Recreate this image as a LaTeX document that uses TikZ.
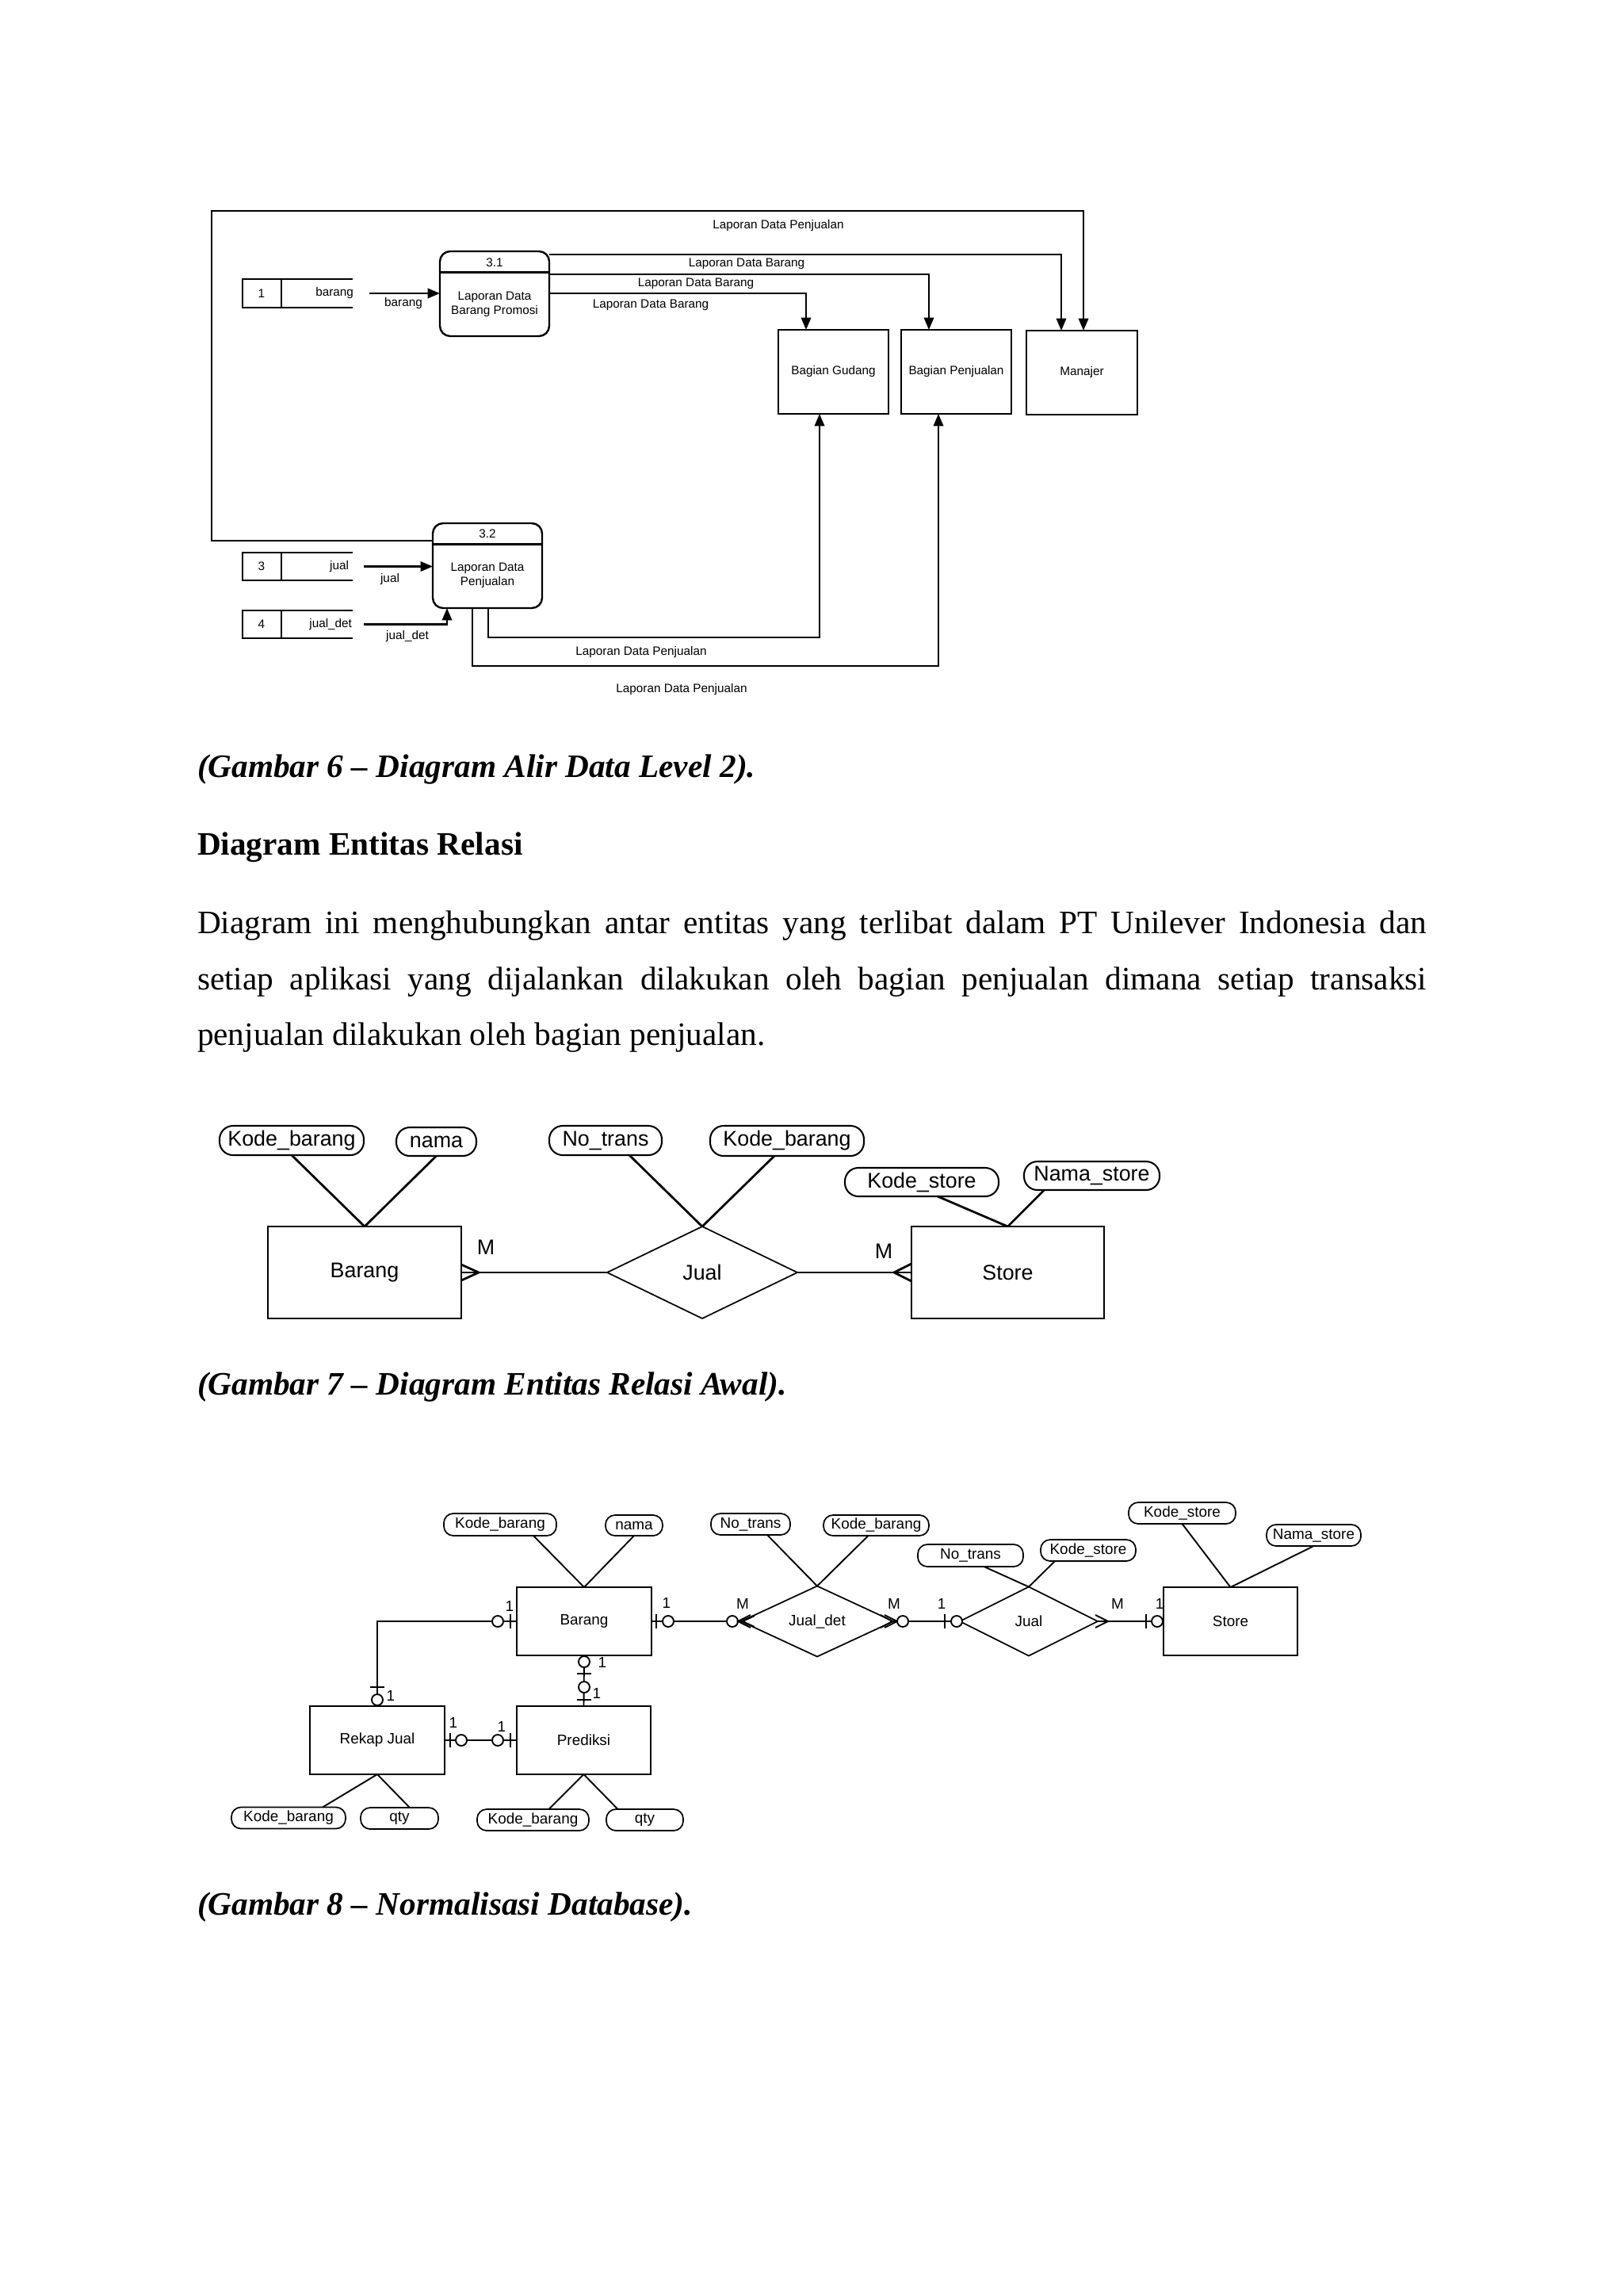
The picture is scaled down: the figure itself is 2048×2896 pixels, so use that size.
\documentclass[tikz,border=0pt]{standalone}
\usepackage{fontspec}
\setmainfont{Liberation Serif}
\newfontfamily\arial{Liberation Sans}
\usetikzlibrary{shapes.geometric,arrows.meta}
\newdimen\pxu \pxu=0.290664pt
\begin{document}
\begin{tikzpicture}[x=0.290664pt,y=-0.290664pt,
  every node/.style={inner sep=0pt, outer sep=0pt},
  sz/.style 2 args={minimum width=#1*\pxu, minimum height=#2*\pxu},
  dfdf/.style={font=\arial\fontsize{4.45}{5.4}\selectfont},
  dfdbox/.style={draw, line width=0.7pt, dfdf},
  dfdproc/.style={draw, line width=0.7pt, rounded corners=13*\pxu},
  dline/.style={line width=0.75pt},
  arr/.style={dline, -{Triangle[length=4.5pt,width=3.6pt]}},
  storeln/.style={line width=0.8pt},
  f1/.style={font=\arial\fontsize{7.8}{9}\selectfont},
  ent1/.style={draw, line width=0.5pt, f1},
  rel1/.style={draw, line width=0.5pt, shape=diamond, f1},
  att1/.style={draw, line width=0.6pt, rounded corners=17*\pxu, f1},
  l1/.style={line width=0.8pt},
  f2/.style={font=\arial\fontsize{5.5}{6.5}\selectfont},
  ent2/.style={draw, line width=0.55pt, f2},
  rel2/.style={draw, line width=0.5pt, shape=diamond, f2},
  att2/.style={draw, line width=0.5pt, rounded corners=12*\pxu, f2},
  l2/.style={line width=0.55pt},
  mk/.style={line width=0.55pt, fill=white},
  capt/.style={anchor=base west, font=\fontsize{12}{14}\selectfont\bfseries\itshape},
  bodyt/.style={anchor=base west, font=\fontsize{12}{14}\selectfont}
]
\fill[white] (0,0) rectangle (2048,2896);
\useasboundingbox (0,0) rectangle (2048,2896);

% ================= DFD =================
\node[dfdproc, sz={138}{107}] (p31) at (624,370.5) {};
\draw[line width=0.7pt] ([yshift=-26.5*\pxu]p31.north west) -- ([yshift=-26.5*\pxu]p31.north east);
\node[dfdf] (p31n) at (624,331) {3.1};
\node[dfdf, align=center] (p31t) at (624,384) {Laporan Data\\Barang Promosi};

\node[dfdproc, sz={138}{107}] (p32) at (615,713.5) {};
\draw[line width=0.7pt] ([yshift=-26.5*\pxu]p32.north west) -- ([yshift=-26.5*\pxu]p32.north east);
\node[dfdf] (p32n) at (615,673) {3.2};
\node[dfdf, align=center] (p32t) at (615,726) {Laporan Data\\Penjualan};

\node[dfdbox, sz={139}{106}] (g) at (1051.5,469) {Bagian Gudang};
\node[dfdbox, sz={139}{106}] (bp) at (1206.5,469) {Bagian Penjualan};
\node[dfdbox, sz={140}{106}] (man) at (1365,470) {Manajer};

% data stores
\node[sz={139}{36}] (s1) at (375.5,370) {};
\node[sz={139}{35}] (s3) at (375.5,714.5) {};
\node[sz={139}{35}] (s4) at (375.5,787.5) {};
\foreach \s in {s1,s3,s4}{
  \draw[line width=0.6pt] (\s.north west) rectangle ([xshift=49*\pxu]\s.south west);
  \draw[storeln] ([xshift=49*\pxu]\s.north west) -- (\s.north east);
  \draw[storeln] ([xshift=49*\pxu]\s.south west) -- (\s.south east);
}
\node[dfdf] (s1n) at (330,370) {1};
\node[dfdf, anchor=east] (s1t) at (446,370) {barang};
\node[dfdf] (s3n) at (330,714.5) {3};
\node[dfdf, anchor=east] (s3t) at (440,714.5) {jual};
\node[dfdf] (s4n) at (330,787.5) {4};
\node[dfdf, anchor=east] (s4t) at (444,787.5) {jual\_det};

% flows
\draw[arr] ([xshift=21*\pxu]s1.east) -- (s1.east -| p31.west);
\node[dfdf] (fl1) at (509,383) {barang};
\draw[arr] ([xshift=14*\pxu]s3.east) -- (s3.east -| p32.west);
\node[dfdf] (fl3) at (492,731) {jual};
\draw[arr] ([xshift=14*\pxu]s4.east) -| ([xshift=-51*\pxu]p32.south);
\node[dfdf] (fl4) at (514,803) {jual\_det};

\draw[arr] ([yshift=31.5*\pxu]p32.west) -- (267,682) -- (267,266) -| ([xshift=2*\pxu]man.north);
\node[dfdf] (lt) at (982,285) {Laporan Data Penjualan};
\draw[arr] ([yshift=49.5*\pxu]p31.east) -| ([xshift=-26*\pxu]man.north);
\node[dfdf] (la) at (942,333) {Laporan Data Barang};
\draw[arr] ([yshift=24.5*\pxu]p31.east) -| ([xshift=-34.5*\pxu]bp.north);
\node[dfdf] (lb) at (878,358) {Laporan Data Barang};
\draw[arr] ([yshift=0.5*\pxu]p31.east) -| ([xshift=-34.5*\pxu]g.north);
\node[dfdf] (lc) at (821,385) {Laporan Data Barang};

\draw[arr] ([xshift=1*\pxu]p32.south) -- ++(0,37) -| ([xshift=-17.5*\pxu]g.south);
\node[dfdf] (ld) at (809,823) {Laporan Data Penjualan};
\draw[arr] ([xshift=-19*\pxu]p32.south) -- ++(0,73) -| ([xshift=-22.5*\pxu]bp.south);
\node[dfdf] (le) at (860,870) {Laporan Data Penjualan};

% ================= TEXT =================
\node[capt] (cap6) at (249,980) {(Gambar 6 -- Diagram Alir Data Level 2).};
\node[anchor=base west, font=\fontsize{12}{14}\selectfont\bfseries] (head) at (249,1078) {Diagram Entitas Relasi};
\node[bodyt] (b1) at (249,1177) {\hbox to 1551\pxu{Diagram ini menghubungkan antar entitas yang terlibat dalam PT Unilever Indonesia dan}};
\node[bodyt] (b2l) at (249,1248) {\hbox to 1551\pxu{setiap aplikasi yang dijalankan dilakukan oleh bagian penjualan dimana setiap transaksi}};
\node[bodyt] (b3) at (249,1318) {penjualan dilakukan oleh bagian penjualan.};
\node[capt] (cap7) at (249,1759) {(Gambar 7 -- Diagram Entitas Relasi Awal).};
\node[capt] (cap8) at (249,2415) {(Gambar 8 -- Normalisasi Database).};

% ================= ERD 1 =================
\node[ent1, sz={244}{116}] (eb) at (460,1605) {Barang};
\node[rel1, sz={240}{116}] (ej) at (886,1605) {Jual};
\node[ent1, sz={243}{116}] (es) at (1271.5,1605) {Store};
\node[att1, sz={182}{37}] (a1) at (368,1438.5) {Kode\_barang};
\node[att1, sz={101}{36}] (a2) at (550.5,1440) {nama};
\node[att1, sz={142}{37}] (a3) at (764,1438.5) {No\_trans};
\node[att1, sz={194}{38}] (a4) at (993,1439) {Kode\_barang};
\node[att1, sz={194}{36}] (a5) at (1163,1491) {Kode\_store};
\node[att1, sz={171}{36}] (a6) at (1377.5,1483) {Nama\_store};
\draw[l1] (a1.south) -- (eb.north);
\draw[l1] (a2.south) -- (eb.north);
\draw[l1] ([xshift=30*\pxu]a3.south) -- (ej.north);
\draw[l1] ([xshift=-16*\pxu]a4.south) -- (ej.north);
\draw[l1] ([xshift=20*\pxu]a5.south) -- (es.north);
\draw[l1] ([xshift=-60*\pxu]a6.south) -- (es.north);
\draw[l1] (eb.east) -- (ej.west);
\draw[l1] ([yshift=10*\pxu]eb.east) -- ([xshift=22*\pxu]eb.east) -- ([yshift=-10*\pxu]eb.east);
\node[f1] (m1) at (613,1573) {M};
\draw[l1] (ej.east) -- (es.west);
\draw[l1] ([yshift=11*\pxu]es.west) -- ([xshift=-22*\pxu]es.west) -- ([yshift=-11*\pxu]es.west);
\node[f1] (m2) at (1115,1578) {M};

% ================= ERD 2 =================
\node[ent2, sz={170}{86}] (b2) at (737,2045) {Barang};
\node[ent2, sz={170}{86}] (rj) at (476,2195) {Rekap Jual};
\node[ent2, sz={169}{86}] (pr) at (736.5,2195) {Prediksi};
\node[rel2, sz={192}{87}] (jd) at (1031,2045) {Jual\_det};
\node[rel2, sz={174}{87}] (j2) at (1298,2045) {Jual};
\node[ent2, sz={169}{86}] (s2) at (1552.5,2045) {Store};

\node[att2, sz={142}{28}] (c1) at (631,1923) {Kode\_barang};
\node[att2, sz={72}{26}] (c2) at (800,1924) {nama};
\node[att2, sz={100}{27}] (c3) at (947,1922.5) {No\_trans};
\node[att2, sz={133}{26}] (c4) at (1105.5,1924) {Kode\_barang};
\node[att2, sz={133}{28}] (c5) at (1224.5,1962) {No\_trans};
\node[att2, sz={120}{27}] (c6) at (1373,1955.5) {Kode\_store};
\node[att2, sz={135}{27}] (c7) at (1491.5,1908.5) {Kode\_store};
\node[att2, sz={119}{27}] (c8) at (1657.5,1936.5) {Nama\_store};
\node[att2, sz={144}{27}] (c9) at (364,2293) {Kode\_barang};
\node[att2, sz={98}{27}] (c10) at (504,2293.5) {qty};
\node[att2, sz={141}{27}] (c11) at (672.5,2295.5) {Kode\_barang};
\node[att2, sz={97}{27}] (c12) at (813.5,2295.5) {qty};

\draw[l2] ([xshift=42*\pxu]c1.south) -- (b2.north);
\draw[l2] (c2.south) -- (b2.north);
\draw[l2] ([xshift=21*\pxu]c3.south) -- (jd.north);
\draw[l2] ([xshift=-10*\pxu]c4.south) -- (jd.north);
\draw[l2] ([xshift=17*\pxu]c5.south) -- (j2.north);
\draw[l2] ([xshift=-42*\pxu]c6.south) -- (j2.north);
\draw[l2] (c7.south) -- (s2.north);
\draw[l2] (c8.south) -- (s2.north);
\draw[l2] (rj.south) -- ([xshift=43*\pxu]c9.north);
\draw[l2] (rj.south) -- ([xshift=13*\pxu]c10.north);
\draw[l2] (pr.south) -- ([xshift=20*\pxu]c11.north);
\draw[l2] (pr.south) -- ([xshift=-34*\pxu]c12.north);

% relationships
\draw[l2] (b2.west) -| (rj.north);
\draw[l2] (b2.east) -- (jd.west);
\draw[l2] (jd.east) -- (j2.west);
\draw[l2] (j2.east) -- (s2.west);
\draw[l2] (rj.east) -- (pr.west);
\draw[l2] (b2.south) -- (pr.north);

% markers: Barang left / Rekap top
\draw[mk] (628,2045) circle[radius=7];
\draw[l2] (644,2036) -- (644,2054);
\draw[l2] (467,2128) -- (485,2128);
\draw[mk] (476,2144) circle[radius=7];
% Barang right
\draw[l2] (828,2036) -- (828,2054);
\draw[mk] (843,2045) circle[radius=7];
% Jual_det left
\draw[mk] (924,2045) circle[radius=7];
\draw[l2] (947,2037) -- (931,2045) -- (947,2053);
\draw[l2] (952,2038) -- (937,2045) -- (952,2052);
% Jual_det right
\draw[l2] (1111,2037) -- (1126,2045) -- (1111,2053);
\draw[l2] (1116,2037) -- (1132,2045) -- (1116,2053);
\draw[mk] (1139,2045) circle[radius=7];
% Jual left
\draw[l2] (1192,2036) -- (1192,2054);
\draw[mk] (1207,2045) circle[radius=7];
% Jual right
\draw[l2] (1382,2037) -- (1398,2045) -- (1382,2053);
\draw[l2] (1446,2036) -- (1446,2054);
\draw[mk] (1460,2045) circle[radius=7];
% Rekap right / Prediksi left
\draw[l2] (568,2186) -- (568,2204);
\draw[mk] (582,2195) circle[radius=7];
\draw[mk] (628,2195) circle[radius=7];
\draw[l2] (644,2186) -- (644,2204);
% Barang bottom / Prediksi top
\draw[mk] (737,2096) circle[radius=7];
\draw[l2] (728,2111) -- (746,2111);
\draw[mk] (737,2128) circle[radius=7];
\draw[l2] (728,2144) -- (746,2144);

% cardinality labels
\node[f2] (k1) at (643,2026) {1};
\node[f2] (k2) at (493,2139) {1};
\node[f2] (k3) at (841,2022) {1};
\node[f2] (k4) at (937,2023) {M};
\node[f2] (k5) at (1128,2023) {M};
\node[f2] (k6) at (1188,2023) {1};
\node[f2] (k7) at (1410,2023) {M};
\node[f2] (k8) at (1463,2023) {1};
\node[f2] (k9) at (572,2173) {1};
\node[f2] (k10) at (633,2178) {1};
\node[f2] (k11) at (760,2097) {1};
\node[f2] (k12) at (753,2136) {1};
\end{tikzpicture}
\end{document}
